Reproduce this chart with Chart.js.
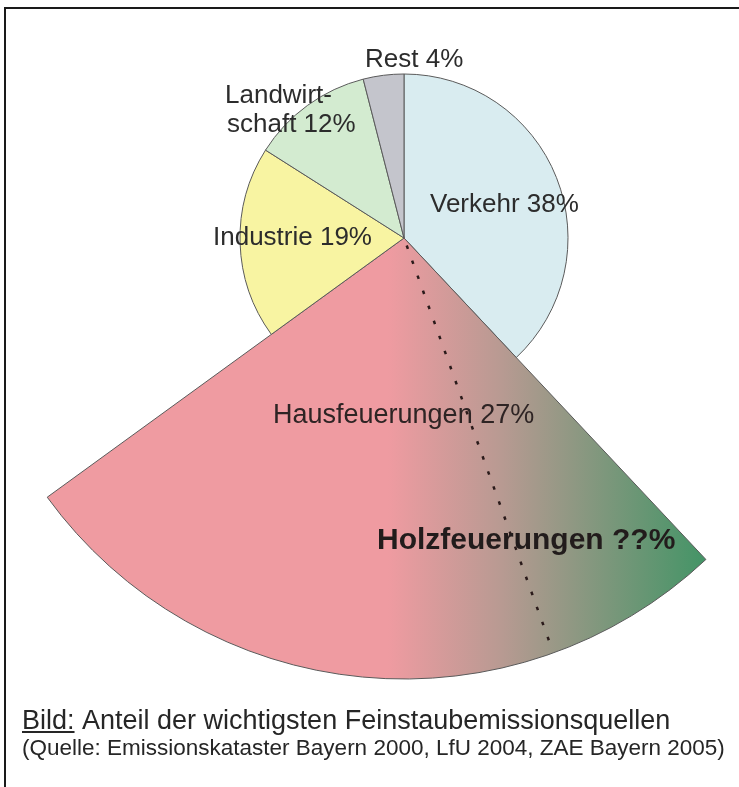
<!DOCTYPE html>
<html><head><meta charset="utf-8">
<script src="https://cdn.jsdelivr.net/npm/chart.js@4/dist/chart.umd.min.js"></script>
<style>html,body{margin:0;padding:0;background:#fff;}#wrap{position:relative;width:739px;height:787px;}</style>
</head><body><div id="wrap"><canvas id="c"></canvas></div>
<script>
// ---- data ----
const categories = ['Verkehr', 'Hausfeuerungen', 'Industrie', 'Landwirtschaft', 'Rest'];
const shares = [38, 27, 19, 12, 4];
const sliceLabelLines = [['Verkehr 38%'], ['Hausfeuerungen 27%'], ['Industrie 19%'], ['Landwirt-', 'schaft 12%'], ['Rest 4%']];
const subCategory = ['Holzfeuerungen ??%'];
const holzDividerShare = [6.5]; // % of total, measured from the start of the Hausfeuerungen slice
const captionLines = ['Bild:', 'Anteil der wichtigsten Feinstaubemissionsquellen', '(Quelle: Emissionskataster Bayern 2000, LfU 2004, ZAE Bayern 2005)'];

// ---- style ----
const sliceColors = ['#d9ecf0', null, '#f8f4a2', '#d3ebd0', '#c4c5cc'];
const explodedIndex = 1;
const baseRadius = 164;
const explodedRadius = 441;
const FONT = '"Liberation Sans", Arial, sans-serif';
const labelOffsets = [[26, -26], [-131, 185], [-191, 7], [-179, -135], [-39, -171]];
const subLabelOffset = [-27, 311];

function hausGradient(chart) {
  const c = chart.ctx;
  const g = c.createLinearGradient(388, 0, 712, 0);
  g.addColorStop(0, '#ef9ba1');
  g.addColorStop(0.35, '#b89a92');
  g.addColorStop(1, '#409465');
  return g;
}

const overlay = {
  id: 'overlay',
  afterDatasetsUpdate(chart) {
    const meta = chart.getDatasetMeta(0);
    meta.data[explodedIndex].outerRadius = explodedRadius;
  },
  afterDatasetsDraw(chart) {
    const ctx = chart.ctx;
    const meta = chart.getDatasetMeta(0);
    const arc = meta.data[explodedIndex];
    const cx = arc.x, cy = arc.y;
    const total = shares.reduce((a, b) => a + b, 0);
    // dotted divider
    const ang = arc.startAngle + holzDividerShare[0] / total * Math.PI * 2;
    ctx.save();
    ctx.strokeStyle = '#2a1a1a';
    ctx.lineWidth = 2.5;
    ctx.setLineDash([3.5, 12.5]);
    ctx.beginPath();
    ctx.moveTo(cx + Math.cos(ang) * 8, cy + Math.sin(ang) * 8);
    ctx.lineTo(cx + Math.cos(ang) * 430, cy + Math.sin(ang) * 430);
    ctx.stroke();
    ctx.restore();

    // labels
    ctx.save();
    ctx.textAlign = 'left';
    ctx.textBaseline = 'alphabetic';
    sliceLabelLines.forEach((lines, i) => {
      ctx.font = (i === explodedIndex ? '27px ' : '26px ') + FONT;
      ctx.fillStyle = i === explodedIndex ? '#2e2424' : '#2c2c2c';
      lines.forEach((t, k) => {
        ctx.fillText(t, cx + labelOffsets[i][0] + (k ? 2 : 0), cy + labelOffsets[i][1] + k * 29);
      });
    });
    ctx.font = 'bold 30px ' + FONT;
    ctx.fillStyle = '#221c1c';
    ctx.fillText(subCategory[0], cx + subLabelOffset[0], cy + subLabelOffset[1]);

    // caption
    ctx.fillStyle = '#262626';
    ctx.font = '27px ' + FONT;
    ctx.fillText(captionLines[0], 22, 729);
    const w0 = ctx.measureText(captionLines[0]).width;
    ctx.fillRect(22, 731, w0, 2);
    const wsp = ctx.measureText(' ').width;
    ctx.fillText(captionLines[1], 22 + w0 + wsp, 729);
    ctx.font = '22.5px ' + FONT;
    ctx.fillText(captionLines[2], 22, 755);

    // frame
    ctx.strokeStyle = '#1a1a1a';
    ctx.lineWidth = 2;
    ctx.strokeRect(5, 8, 800, 850);
    ctx.restore();
  }
};

new Chart(document.getElementById('c'), {
  type: 'pie',
  data: {
    labels: categories,
    datasets: [{
      data: shares,
      backgroundColor: (c) => c.dataIndex === explodedIndex ? hausGradient(c.chart) : sliceColors[c.dataIndex],
      borderColor: '#5a5a5a',
      borderWidth: 1,
      radius: baseRadius,
      clip: false
    }]
  },
  options: {
    responsive: true,
    maintainAspectRatio: false,
    animation: false,
    events: [],
    layout: { padding: { left: 69, right: 0, top: 0, bottom: 311 } },
    plugins: { legend: { display: false }, tooltip: { enabled: false }, title: { display: false } }
  },
  plugins: [overlay]
});
</script></body></html>
